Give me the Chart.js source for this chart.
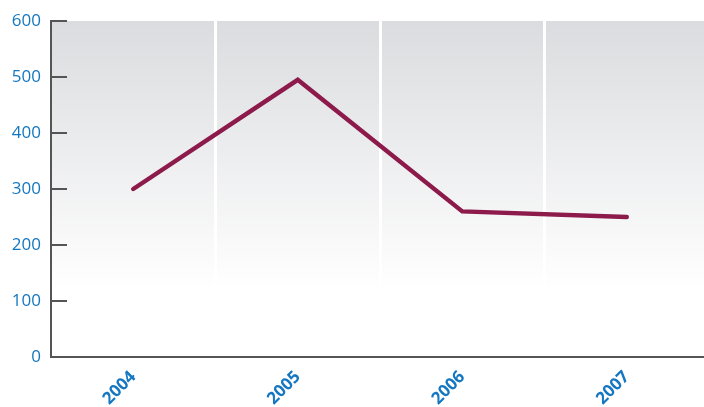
<!DOCTYPE html>
<html>
<head>
<meta charset="utf-8">
<script src="https://cdn.jsdelivr.net/npm/chart.js@4"></script>
<style>
  body { margin: 0; background: #fff; }
  canvas { display: block; }
</style>
</head>
<body>
<canvas id="salesChart" width="704" height="407"></canvas>
<script>
// data
const years = ['2004', '2005', '2006', '2007'];
const values = [300, 495, 260, 250];
const yTicks = [0, 100, 200, 300, 400, 500, 600];

const blue = '#1577c1';
const axisGrey = '#555555';

// the plot runs a few pixels past the right edge of the window
const widenPlot = {
    id: 'widenPlot',
    afterLayout(chart) {
        const x = chart.scales.x;
        x.right += 5;
        x.width += 5;
        x.configure();
        chart.chartArea.right += 5;
        chart.chartArea.width += 5;
    }
};

// grey-to-white gradient behind the plot
const plotBackground = {
    id: 'plotBackground',
    beforeDraw(chart) {
        const { ctx, chartArea: a } = chart;
        const g = ctx.createLinearGradient(0, a.top, 0, a.bottom);
        g.addColorStop(0, '#dbdcdf');
        g.addColorStop(0.8, '#ffffff');
        g.addColorStop(1, '#ffffff');
        ctx.save();
        ctx.fillStyle = g;
        ctx.fillRect(a.left, a.top, a.right - a.left, a.bottom - a.top);
        ctx.restore();
    }
};

// y tick marks point into the plot
const innerTicks = {
    id: 'innerTicks',
    afterDraw(chart) {
        const { ctx } = chart;
        const y = chart.scales.y;
        ctx.save();
        ctx.strokeStyle = axisGrey;
        ctx.lineWidth = 2;
        yTicks.forEach(v => {
            const py = Math.round(y.getPixelForValue(v));
            ctx.beginPath();
            ctx.moveTo(y.right, py);
            ctx.lineTo(y.right + 16, py);
            ctx.stroke();
        });
        ctx.restore();
    }
};

new Chart(document.getElementById('salesChart').getContext('2d'), {
    type: 'line',
    data: {
        labels: years,
        datasets: [{
            data: values,
            borderColor: '#8c1a4b',
            borderWidth: 4.5,
            pointRadius: 0,
            tension: 0,
            borderCapStyle: 'round',
            borderJoinStyle: 'miter'
        }]
    },
    options: {
        responsive: false,
        animation: false,
        layout: {
            padding: { top: 21, right: 0, left: 0, bottom: 0 }
        },
        plugins: {
            legend: { display: false },
            tooltip: { enabled: false }
        },
        scales: {
            x: {
                offset: true,
                afterFit(scale) { scale.height = 50; },
                grid: {
                    offset: true,
                    drawTicks: false,
                    lineWidth: 3,
                    color(c) {
                        return (c.index === 0 || c.index >= years.length) ? 'rgba(0,0,0,0)' : '#ffffff';
                    }
                },
                border: { color: axisGrey, width: 2 },
                ticks: {
                    minRotation: 45,
                    maxRotation: 45,
                    padding: 10,
                    color: blue,
                    font: { family: 'Open Sans', size: 17, weight: 'bold' }
                }
            },
            y: {
                min: 0,
                max: 600,
                afterFit(scale) { scale.width = 51; },
                afterBuildTicks(scale) {
                    scale.ticks = yTicks.map(v => ({ value: v }));
                },
                grid: { drawOnChartArea: false, drawTicks: false },
                border: { color: axisGrey, width: 2 },
                ticks: {
                    padding: 10,
                    color: blue,
                    font: { family: 'Open Sans', size: 17 }
                }
            }
        }
    },
    plugins: [widenPlot, plotBackground, innerTicks]
});
</script>
</body>
</html>
